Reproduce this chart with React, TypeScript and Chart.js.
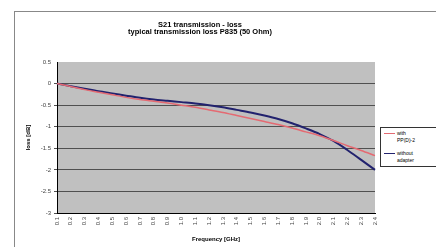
import React, { useEffect, useRef } from "react";
import { Chart, registerables } from "chart.js";

Chart.register(...registerables);

const frequencies = [
  "0.1", "0.2", "0.3", "0.4", "0.5", "0.6", "0.7", "0.8", "0.9", "1.0", "1.1", "1.2",
  "1.3", "1.4", "1.5", "1.6", "1.7", "1.8", "1.9", "2.0", "2.1", "2.2", "2.3", "2.4",
];
const lossWith = [
  0, -0.07, -0.14, -0.2, -0.26, -0.32, -0.37, -0.41, -0.45, -0.5, -0.55, -0.61,
  -0.67, -0.74, -0.81, -0.88, -0.95, -1.03, -1.12, -1.21, -1.32, -1.44, -1.55, -1.67,
];
const lossWithout = [
  0, -0.06, -0.12, -0.18, -0.23, -0.28, -0.33, -0.37, -0.4, -0.43, -0.46, -0.5,
  -0.55, -0.61, -0.67, -0.74, -0.82, -0.92, -1.04, -1.17, -1.33, -1.54, -1.77, -2.0,
];
const yTicks = [0.5, 0, -0.5, -1, -1.5, -2, -2.5, -3];
const titleLines = ["S21 transmission - loss", "typical transmission loss P835 (50 Ohm)"];
const legendItems = [
  { line1: "with", line2: "PP(D)-2", color: "#e46a72" },
  { line1: "without", line2: "adapter", color: "#22226e" },
];

const font = "Arial, 'Liberation Sans', sans-serif";

export default function App() {
  const ref = useRef<HTMLCanvasElement | null>(null);

  useEffect(() => {
    if (!ref.current) return;
    const bgPlugin = {
      id: "plotBg",
      beforeDraw(chart: any) {
        const { ctx, chartArea } = chart;
        ctx.save();
        ctx.fillStyle = "#c0c0c0";
        ctx.fillRect(chartArea.left, chartArea.top, chartArea.right - chartArea.left, chartArea.bottom - chartArea.top);
        ctx.restore();
      },
    };
    const chart = new Chart(ref.current, {
      type: "line",
      data: {
        labels: frequencies,
        datasets: [
          {
            label: "with",
            data: lossWith,
            borderColor: "#e46a72",
            borderWidth: 1.5,
            pointRadius: 0,
            tension: 0.3,
          },
          {
            label: "without",
            data: lossWithout,
            borderColor: "#22226e",
            borderWidth: 2,
            pointRadius: 0,
            tension: 0.3,
          },
        ],
      },
      options: {
        animation: false,
        responsive: false,
        layout: { padding: { left: 25, right: 61, top: 0, bottom: 4 } },
        plugins: {
          legend: { display: false },
          tooltip: { enabled: false },
          title: {
            display: true,
            text: titleLines,
            color: "#000",
            font: { family: font, size: 7.5, weight: "bold", lineHeight: 1.0 },
            padding: { top: 21, bottom: 26 },
          },
        },
        scales: {
          x: {
            type: "category",
            offset: false,
            afterFit(scale: any) {
              scale.height = 30;
            },
            grid: { display: false, drawTicks: true, tickLength: 2, color: "#000" },
            border: { display: true, color: "#000", width: 1 },
            ticks: {
              autoSkip: false,
              minRotation: 90,
              maxRotation: 90,
              color: "#444",
              padding: 2,
              font: { family: font, size: 6 },
            },
            title: {
              display: true,
              text: "Frequency [GHz]",
              color: "#000",
              padding: { top: 0, bottom: 0 },
              font: { family: font, size: 6, weight: "bold" },
            },
          },
          y: {
            min: -3,
            max: 0.5,
            afterFit(scale: any) {
              scale.width = 32;
            },
            afterBuildTicks(scale: any) {
              scale.ticks = yTicks.map((v) => ({ value: v }));
            },
            grid: {
              color: (ctx: any) => (ctx.tick && ctx.tick.value === 0.5 ? "rgba(0,0,0,0)" : "#505050"),
              lineWidth: 1,
              drawTicks: true,
              tickLength: 3,
            },
            border: { display: true, color: "#000", width: 1 },
            ticks: {
              color: "#444",
              padding: 3,
              font: { family: font, size: 6 },
              callback: (v: any) => String(v),
            },
            title: {
              display: true,
              text: "loss [dB]",
              color: "#000",
              padding: { top: 0, bottom: 2 },
              font: { family: font, size: 6, weight: "bold" },
            },
          },
        },
      },
      plugins: [bgPlugin],
    } as any);
    return () => chart.destroy();
  }, []);

  return (
    <div style={{ position: "fixed", left: 0, top: 0, width: 436, height: 247, background: "#fff", overflow: "hidden", fontFamily: font }}>
      <div style={{ position: "absolute", left: 14, top: 11, width: 440, height: 250, border: "1px solid #888", boxSizing: "border-box" }} />
      <canvas ref={ref} width={436} height={247} style={{ position: "absolute", left: 0, top: 0 }} />
      <div style={{ position: "absolute", left: 380, top: 127, width: 70, height: 40, border: "1px solid #333", background: "#fff", boxSizing: "border-box" }}>
        {legendItems.map((it, i) => (
          <div key={i} style={{ position: "absolute", left: 3, top: 2 + i * 20, fontSize: 5, lineHeight: "7px", color: "#000" }}>
            <div style={{ display: "flex", alignItems: "center" }}>
              <span style={{ display: "inline-block", width: 11, height: 0, borderTop: `1.5px solid ${it.color}`, marginRight: 2 }} />
              <span>{it.line1}</span>
            </div>
            <div style={{ paddingLeft: 13 }}>{it.line2}</div>
          </div>
        ))}
      </div>
    </div>
  );
}
